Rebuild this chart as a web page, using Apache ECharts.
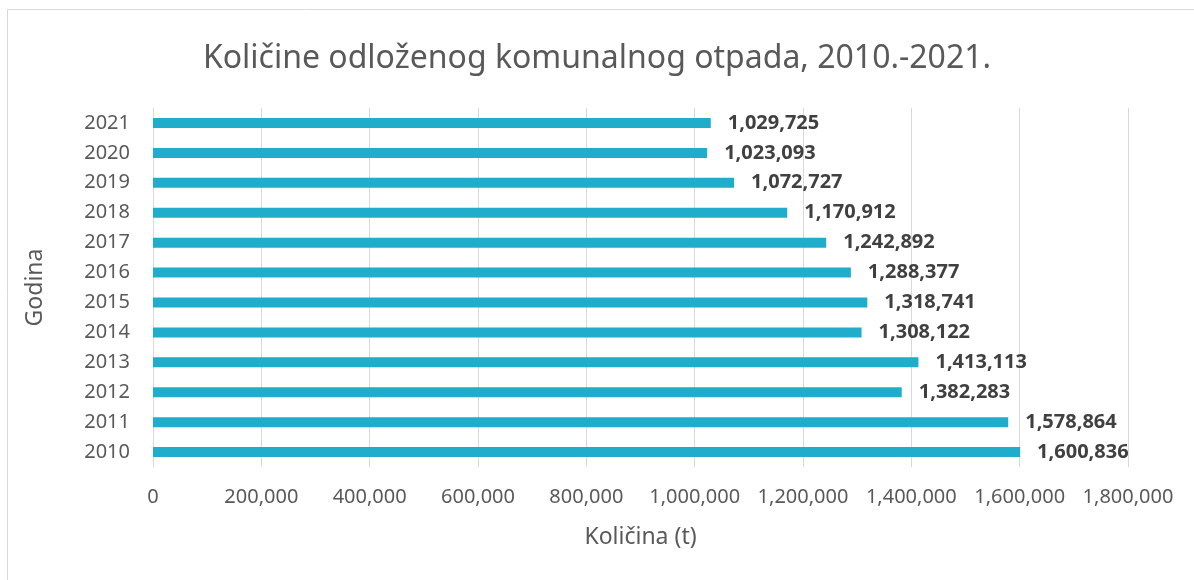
<!DOCTYPE html>
<html><head><meta charset="utf-8">
<script src="https://cdn.jsdelivr.net/npm/echarts@6/dist/echarts.min.js"></script>
<style>html,body{margin:0;padding:0;background:#fff}#c{width:1194px;height:580px}</style>
</head><body><div id="c"></div>
<script>
const years = ['2010','2011','2012','2013','2014','2015','2016','2017','2018','2019','2020','2021'];
const amounts = [1600836,1578864,1382283,1413113,1308122,1318741,1288377,1242892,1170912,1072727,1023093,1029725];
const titleText = 'Količine odloženog komunalnog otpada, 2010.-2021.';
const xName = 'Količina (t)';
const yName = 'Godina';
const fmt = v => v.toLocaleString('en-US');
const FF = '"Noto Sans", "Open Sans", sans-serif';
const chart = echarts.init(document.getElementById('c'), null, {renderer:'canvas'});
chart.setOption({
  animation:false,
  textStyle:{fontFamily:FF},
  graphic:[{type:'rect',shape:{x:7.5,y:9.5,width:1200,height:600},style:{fill:'none',stroke:'#d9d9d9',lineWidth:1},silent:true}],
  title:{text:titleText,left:'center',top:38,textStyle:{fontFamily:FF,fontSize:32,fontWeight:'normal',color:'#595959'}},
  grid:{left:153,right:66,top:108,bottom:113},
  xAxis:{type:'value',min:0,max:1800000,interval:200000,
    name:xName,nameLocation:'middle',nameGap:59,nameTextStyle:{fontFamily:FF,fontSize:23,color:'#595959'},
    axisLabel:{formatter:fmt,fontFamily:FF,fontSize:20,color:'#595959',margin:20},
    axisLine:{show:false},axisTick:{show:false},
    splitLine:{show:true,lineStyle:{color:'#d9d9d9',width:1}}},
  yAxis:{type:'category',data:years,
    name:yName,nameLocation:'middle',nameGap:106,nameRotate:90,nameTextStyle:{fontFamily:FF,fontSize:23,color:'#595959'},
    axisLabel:{fontFamily:FF,fontSize:20,color:'#595959',margin:23},
    axisLine:{show:true,lineStyle:{color:'#d9d9d9'}},axisTick:{show:false}},
  series:[{type:'bar',data:amounts,barWidth:10,
    itemStyle:{color:'#1fadcb'},
    label:{show:true,position:'right',distance:17,formatter:p=>fmt(p.value),fontFamily:FF,fontSize:20,fontWeight:'bold',color:'#404040'}}]
});
</script></body></html>
